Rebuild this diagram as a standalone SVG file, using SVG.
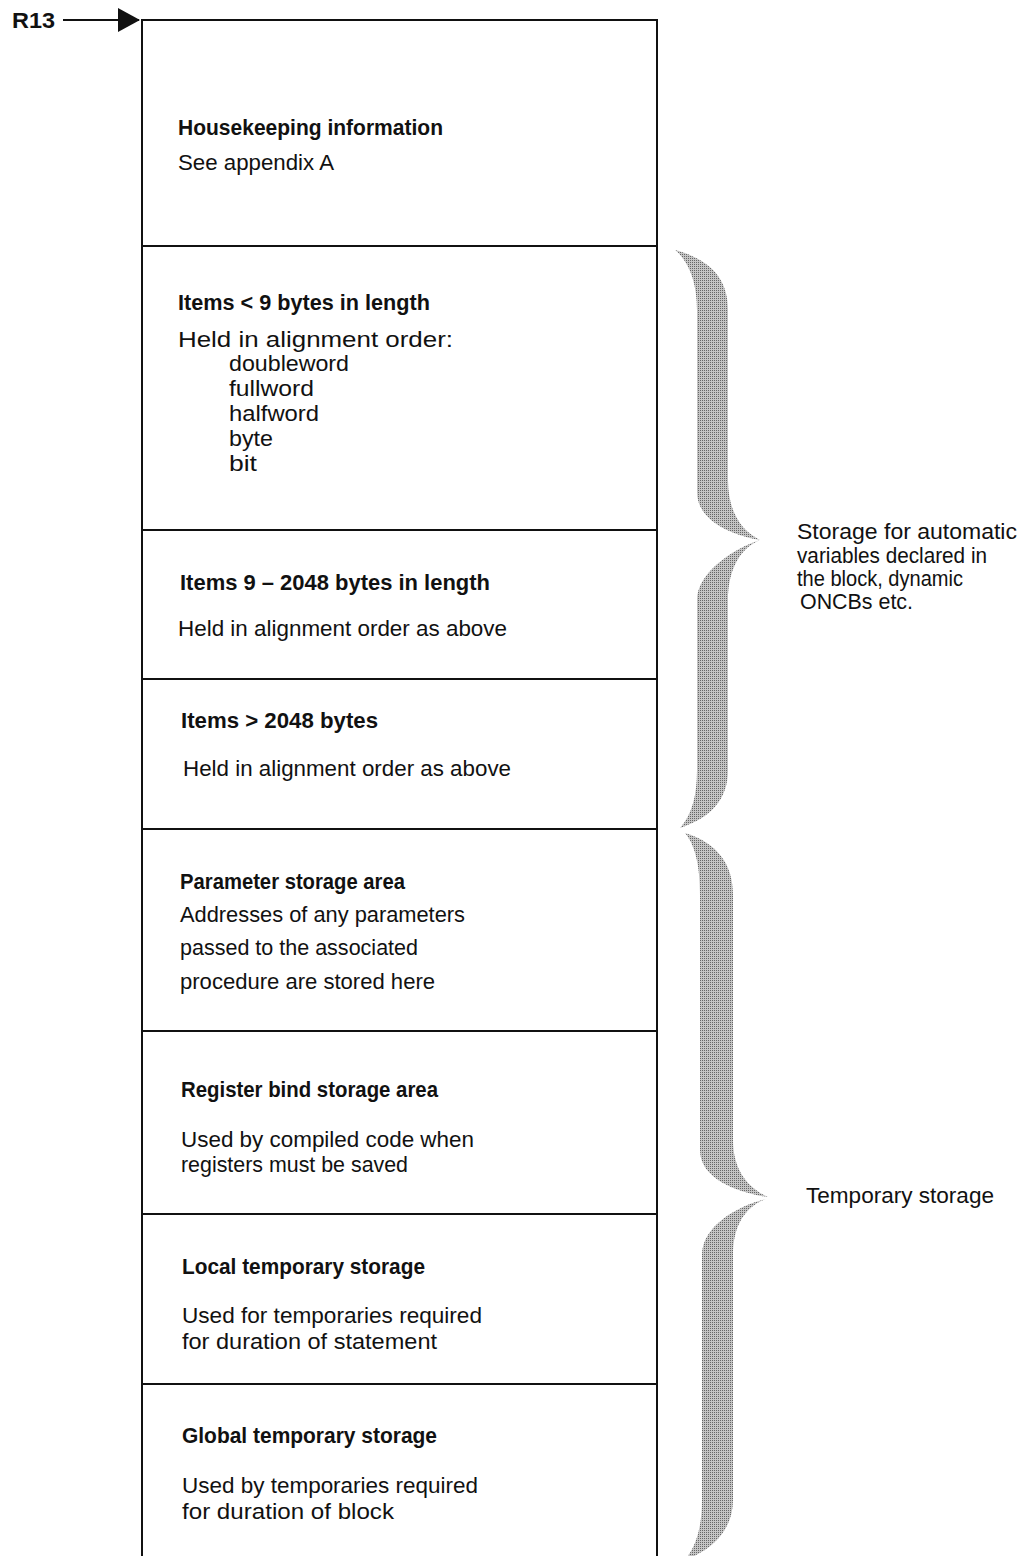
<svg xmlns="http://www.w3.org/2000/svg" width="1025" height="1556" viewBox="0 0 1025 1556">
  <style>
    text { font-family: "Liberation Sans", Arial, sans-serif; fill: #111; }
    .t { font-size: 22px; font-weight: bold; }
    .b { font-size: 22px; }
    .frame { fill: none; stroke: #111; stroke-width: 2; }
    .brace { fill: url(#stipple); stroke: none; }
  </style>
  <defs>
    <!-- fine halftone dots for the grey braces -->
    <pattern id="stipple" width="2" height="2" patternUnits="userSpaceOnUse">
      <rect width="2" height="2" fill="#c4c4c4"/>
      <rect x="0" y="0" width="1" height="1" fill="#666"/>
    </pattern>
    <marker id="head" viewBox="0 0 22 24" refX="21" refY="12" markerWidth="22" markerHeight="24" markerUnits="userSpaceOnUse" orient="auto">
      <path d="M0,0 L22,12 L0,24 Z" fill="#111"/>
    </marker>
  </defs>

  <!-- storage frame: open at the bottom -->
  <g id="frame">
    <path class="frame" d="M142,1556 V20 H657 V1556"/>
    <line class="frame" x1="142" y1="246" x2="657" y2="246"/>
    <line class="frame" x1="142" y1="530" x2="657" y2="530"/>
    <line class="frame" x1="142" y1="679" x2="657" y2="679"/>
    <line class="frame" x1="142" y1="829" x2="657" y2="829"/>
    <line class="frame" x1="142" y1="1031" x2="657" y2="1031"/>
    <line class="frame" x1="142" y1="1214" x2="657" y2="1214"/>
    <line class="frame" x1="142" y1="1384" x2="657" y2="1384"/>
  </g>

  <g id="housekeeping">
    <text class="t" x="178" y="135" textLength="265" lengthAdjust="spacingAndGlyphs">Housekeeping information</text>
    <text class="b" x="178" y="170" textLength="156" lengthAdjust="spacingAndGlyphs">See appendix A</text>
  </g>

  <g id="items-small">
    <text class="t" x="178" y="310" textLength="252" lengthAdjust="spacingAndGlyphs">Items &lt; 9 bytes in length</text>
    <text class="b" x="178" y="347" textLength="275" lengthAdjust="spacingAndGlyphs">Held in alignment order:</text>
    <text class="b" x="229" y="371" textLength="120" lengthAdjust="spacingAndGlyphs">doubleword</text>
    <text class="b" x="229" y="396" textLength="85" lengthAdjust="spacingAndGlyphs">fullword</text>
    <text class="b" x="229" y="421" textLength="90" lengthAdjust="spacingAndGlyphs">halfword</text>
    <text class="b" x="229" y="446" textLength="44" lengthAdjust="spacingAndGlyphs">byte</text>
    <text class="b" x="229" y="471" textLength="28" lengthAdjust="spacingAndGlyphs">bit</text>
  </g>

  <g id="items-medium">
    <text class="t" x="180" y="590" textLength="310" lengthAdjust="spacingAndGlyphs">Items 9 – 2048 bytes in length</text>
    <text class="b" x="178" y="636" textLength="329" lengthAdjust="spacingAndGlyphs">Held in alignment order as above</text>
  </g>

  <g id="items-large">
    <text class="t" x="181" y="728" textLength="197" lengthAdjust="spacingAndGlyphs">Items &gt; 2048 bytes</text>
    <text class="b" x="183" y="776" textLength="328" lengthAdjust="spacingAndGlyphs">Held in alignment order as above</text>
  </g>

  <g id="parameter-area">
    <text class="t" x="180" y="889" textLength="225" lengthAdjust="spacingAndGlyphs">Parameter storage area</text>
    <text class="b" x="180" y="922" textLength="285" lengthAdjust="spacingAndGlyphs">Addresses of any parameters</text>
    <text class="b" x="180" y="955" textLength="238" lengthAdjust="spacingAndGlyphs">passed to the associated</text>
    <text class="b" x="180" y="989" textLength="255" lengthAdjust="spacingAndGlyphs">procedure are stored here</text>
  </g>

  <g id="register-bind">
    <text class="t" x="181" y="1097" textLength="257" lengthAdjust="spacingAndGlyphs">Register bind storage area</text>
    <text class="b" x="181" y="1147" textLength="293" lengthAdjust="spacingAndGlyphs">Used by compiled code when</text>
    <text class="b" x="181" y="1172" textLength="227" lengthAdjust="spacingAndGlyphs">registers must be saved</text>
  </g>

  <g id="local-temp">
    <text class="t" x="182" y="1274" textLength="243" lengthAdjust="spacingAndGlyphs">Local temporary storage</text>
    <text class="b" x="182" y="1323" textLength="300" lengthAdjust="spacingAndGlyphs">Used for temporaries required</text>
    <text class="b" x="182" y="1349" textLength="255" lengthAdjust="spacingAndGlyphs">for duration of statement</text>
  </g>

  <g id="global-temp">
    <text class="t" x="182" y="1443" textLength="255" lengthAdjust="spacingAndGlyphs">Global temporary storage</text>
    <text class="b" x="182" y="1493" textLength="296" lengthAdjust="spacingAndGlyphs">Used by temporaries required</text>
    <text class="b" x="182" y="1519" textLength="212" lengthAdjust="spacingAndGlyphs">for duration of block</text>
  </g>

  <g id="r13">
    <text class="t" x="12" y="28" textLength="43" lengthAdjust="spacingAndGlyphs">R13</text>
  </g>

  <g id="connectors">
    <line x1="63" y1="20" x2="139" y2="20" stroke="#111" stroke-width="2" marker-end="url(#head)"/>
  </g>

  <!-- braces grouping the compartments -->
  <g id="brace-automatic">
    <path class="brace" d="M675,250 C712,260 728,280 728,310 L728,480 C728,510 740,530 760,540 C735,536 697,522 697,492 L697,310 C697,285 690,262 675,250 Z"/>
    <path class="brace" d="M760,540 C740,548 728,570 728,600 L728,770 C728,800 710,818 680,828 C692,815 697,795 697,770 L697,600 C697,572 735,548 760,540 Z"/>
    <text class="b" x="797" y="539" textLength="220" lengthAdjust="spacingAndGlyphs">Storage for automatic</text>
    <text class="b" x="797" y="563" textLength="190" lengthAdjust="spacingAndGlyphs">variables declared in</text>
    <text class="b" x="797" y="586" textLength="166" lengthAdjust="spacingAndGlyphs">the block, dynamic</text>
    <text class="b" x="800" y="609" textLength="113" lengthAdjust="spacingAndGlyphs">ONCBs etc.</text>
  </g>

  <g id="brace-temporary">
    <path class="brace" d="M685,833 C718,843 733,865 733,895 L733,1140 C733,1170 748,1188 768,1197 C740,1193 700,1180 700,1150 L700,895 C700,865 695,845 685,833 Z"/>
    <path class="brace" d="M766,1199 C746,1206 733,1225 733,1255 L733,1500 C733,1530 712,1550 685,1560 C697,1545 702,1525 702,1500 L702,1255 C702,1225 740,1205 766,1199 Z"/>
    <text class="b" x="806" y="1203" textLength="188" lengthAdjust="spacingAndGlyphs">Temporary storage</text>
  </g>
</svg>
